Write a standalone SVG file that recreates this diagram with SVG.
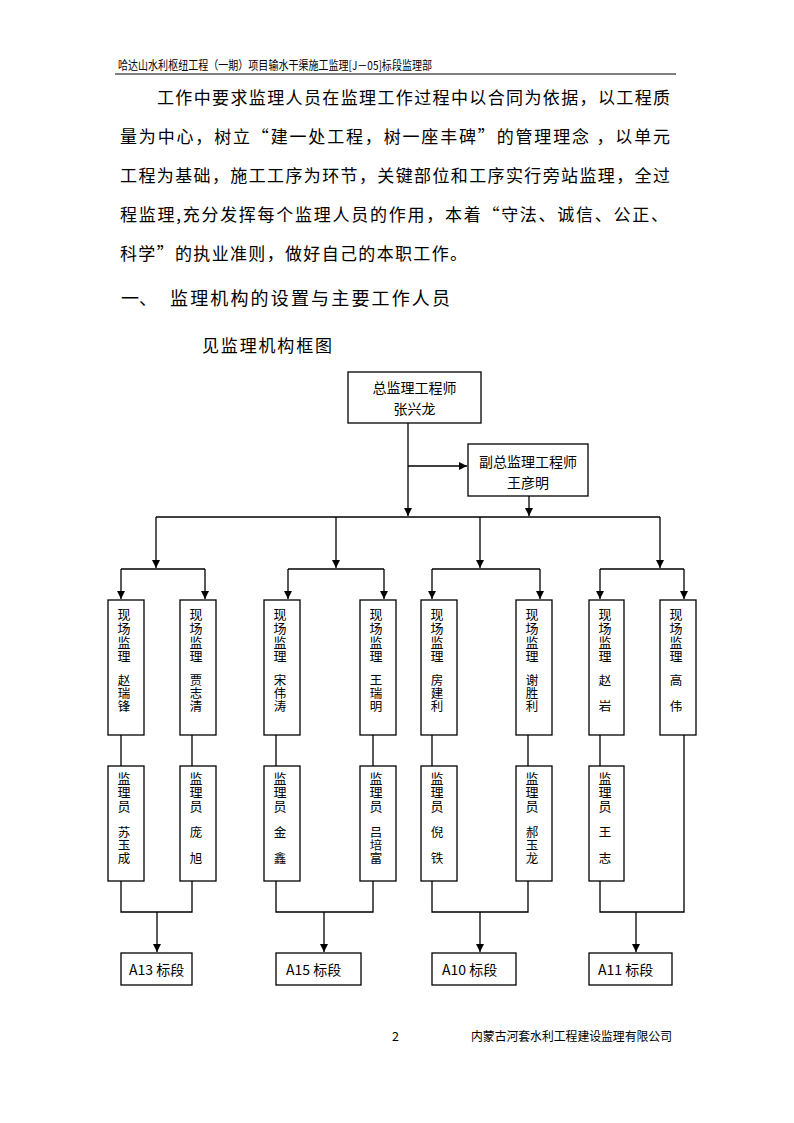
<svg xmlns="http://www.w3.org/2000/svg" width="794" height="1123" viewBox="0 0 794 1123">
<style>
text{font-family:"Noto Sans CJK SC","Liberation Sans",sans-serif;fill:#000}
.hd{font-size:12px}
.p{font-size:17px}
.h{font-size:18px}
.n{font-size:14px}
.c{text-anchor:middle}
.vt{font-size:13px;writing-mode:vertical-rl;text-orientation:upright;letter-spacing:1px}
.vn{font-size:12.5px;writing-mode:vertical-rl;text-orientation:upright;letter-spacing:0.3px}
.vn2{font-size:12.5px;writing-mode:vertical-rl;text-orientation:upright;letter-spacing:13px}
.box{fill:#fff;stroke:#000;stroke-width:1.3}
.ln{fill:none;stroke:#000;stroke-width:1.3}
.ft{font-size:12.5px}
</style>
<defs>
<marker id="ar" markerWidth="9" markerHeight="9" refX="8" refY="4" orient="auto" markerUnits="userSpaceOnUse">
<path d="M0,0 L8,4 L0,8 z" fill="#000"/>
</marker>
</defs>
<rect width="794" height="1123" fill="#fff"/>
<g id="header">
<text class="hd" x="118" y="70" textLength="314" lengthAdjust="spacingAndGlyphs">哈达山水利枢纽工程（一期）项目输水干渠施工监理[J－05]标段监理部</text>
<line x1="115" y1="74" x2="676" y2="74" stroke="#000" stroke-width="1"/>
</g>
<g id="body">
<text class="p" x="157" y="104" textLength="513" lengthAdjust="spacing">工作中要求监理人员在监理工作过程中以合同为依据，以工程质</text>
<text class="p" x="120" y="143" textLength="550" lengthAdjust="spacing">量为中心，树立“建一处工程，树一座丰碑”的管理理念 ，以单元</text>
<text class="p" x="120" y="182" textLength="550" lengthAdjust="spacing">工程为基础，施工工序为环节，关键部位和工序实行旁站监理，全过</text>
<text class="p" x="120" y="221" textLength="548" lengthAdjust="spacing">程监理,充分发挥每个监理人员的作用，本着“守法、诚信、公正、</text>
<text class="p" x="120" y="260" textLength="347" lengthAdjust="spacing">科学”的执业准则，做好自己的本职工作。</text>
<text class="h" x="121" y="305">一、</text>
<text class="h" x="170" y="305" textLength="280" lengthAdjust="spacing">监理机构的设置与主要工作人员</text>
<text class="p" x="202" y="352" textLength="130" lengthAdjust="spacing">见监理机构框图</text>
</g>
<g id="connectors">
<path class="ln" d="M408,423 V516" marker-end="url(#ar)"/>
<path class="ln" d="M408,466 H467" marker-end="url(#ar)"/>
<path class="ln" d="M529,496 V516" marker-end="url(#ar)"/>
<path class="ln" d="M156,517 H660"/>
<path class="ln" d="M156,517 V568" marker-end="url(#ar)"/>
<path class="ln" d="M336,517 V568" marker-end="url(#ar)"/>
<path class="ln" d="M480,517 V568" marker-end="url(#ar)"/>
<path class="ln" d="M660,517 V568" marker-end="url(#ar)"/>
<path class="ln" d="M121,569 H205 M288,569 H384 M432,569 H540 M600,569 H684"/>
<path class="ln" d="M121,569 V599" marker-end="url(#ar)"/>
<path class="ln" d="M205,569 V599" marker-end="url(#ar)"/>
<path class="ln" d="M288,569 V599" marker-end="url(#ar)"/>
<path class="ln" d="M384,569 V599" marker-end="url(#ar)"/>
<path class="ln" d="M432,569 V599" marker-end="url(#ar)"/>
<path class="ln" d="M540,569 V599" marker-end="url(#ar)"/>
<path class="ln" d="M600,569 V599" marker-end="url(#ar)"/>
<path class="ln" d="M684,569 V599" marker-end="url(#ar)"/>
<path class="ln" d="M121,735 V766 M192,735 V766 M276,735 V766 M373,735 V766 M432,735 V766 M528,735 V766 M600,735 V766"/>
<path class="ln" d="M121,881 V912 H192 V881 M276,881 V912 H373 V881 M432,881 V912 H528 V881 M600,881 V912 H684 V735"/>
<path class="ln" d="M157,912 V952" marker-end="url(#ar)"/>
<path class="ln" d="M324,912 V952" marker-end="url(#ar)"/>
<path class="ln" d="M480,912 V952" marker-end="url(#ar)"/>
<path class="ln" d="M636,912 V952" marker-end="url(#ar)"/>
</g>
<g id="chief">
<rect class="box" x="348" y="372" width="133" height="51"/>
<text class="n c" x="414.5" y="393">总监理工程师</text>
<text class="n c" x="414.5" y="414">张兴龙</text>
</g>
<g id="deputy">
<rect class="box" x="468" y="444" width="120" height="52"/>
<text class="n c" x="528" y="467">副总监理工程师</text>
<text class="n c" x="528" y="488">王彦明</text>
</g>
<g id="s1">
<rect class="box" x="108" y="600" width="36" height="135"/>
<text class="vt" x="124" y="608">现场监理</text>
<text class="vn" x="124" y="674">赵瑞锋</text>
</g>
<g id="s2">
<rect class="box" x="180" y="600" width="36" height="135"/>
<text class="vt" x="196" y="608">现场监理</text>
<text class="vn" x="196" y="674">贾志清</text>
</g>
<g id="s3">
<rect class="box" x="264" y="600" width="36" height="135"/>
<text class="vt" x="280" y="608">现场监理</text>
<text class="vn" x="280" y="674">宋伟涛</text>
</g>
<g id="s4">
<rect class="box" x="360" y="600" width="36" height="135"/>
<text class="vt" x="376" y="608">现场监理</text>
<text class="vn" x="376" y="674">王瑞明</text>
</g>
<g id="s5">
<rect class="box" x="421" y="600" width="36" height="135"/>
<text class="vt" x="437" y="608">现场监理</text>
<text class="vn" x="437" y="674">房建利</text>
</g>
<g id="s6">
<rect class="box" x="516" y="600" width="36" height="135"/>
<text class="vt" x="532" y="608">现场监理</text>
<text class="vn" x="532" y="674">谢胜利</text>
</g>
<g id="s7">
<rect class="box" x="589" y="600" width="35" height="135"/>
<text class="vt" x="605" y="608">现场监理</text>
<text class="vn2" x="605" y="674">赵岩</text>
</g>
<g id="s8">
<rect class="box" x="660" y="600" width="36" height="135"/>
<text class="vt" x="676" y="608">现场监理</text>
<text class="vn2" x="676" y="674">高伟</text>
</g>
<g id="m1">
<rect class="box" x="108" y="766" width="36" height="115"/>
<text class="vt" x="124" y="772">监理员</text>
<text class="vn" x="124" y="826">苏玉成</text>
</g>
<g id="m2">
<rect class="box" x="180" y="766" width="36" height="115"/>
<text class="vt" x="196" y="772">监理员</text>
<text class="vn2" x="196" y="826">庞旭</text>
</g>
<g id="m3">
<rect class="box" x="264" y="766" width="36" height="115"/>
<text class="vt" x="280" y="772">监理员</text>
<text class="vn2" x="280" y="826">金鑫</text>
</g>
<g id="m4">
<rect class="box" x="360" y="766" width="36" height="115"/>
<text class="vt" x="376" y="772">监理员</text>
<text class="vn" x="376" y="826">吕培富</text>
</g>
<g id="m5">
<rect class="box" x="421" y="766" width="36" height="115"/>
<text class="vt" x="437" y="772">监理员</text>
<text class="vn2" x="437" y="826">倪铁</text>
</g>
<g id="m6">
<rect class="box" x="516" y="766" width="36" height="115"/>
<text class="vt" x="532" y="772">监理员</text>
<text class="vn" x="532" y="826">郝玉龙</text>
</g>
<g id="m7">
<rect class="box" x="589" y="766" width="35" height="115"/>
<text class="vt" x="605" y="772">监理员</text>
<text class="vn2" x="605" y="826">王志</text>
</g>
<g id="a13">
<rect class="box" x="121" y="953" width="71" height="32"/>
<text class="n" x="129" y="975">A13 标段</text>
</g>
<g id="a15">
<rect class="box" x="276" y="953" width="85" height="32"/>
<text class="n" x="286" y="975">A15 标段</text>
</g>
<g id="a10">
<rect class="box" x="432" y="953" width="84" height="32"/>
<text class="n" x="442" y="975">A10 标段</text>
</g>
<g id="a11">
<rect class="box" x="589" y="953" width="83" height="32"/>
<text class="n" x="598" y="975">A11 标段</text>
</g>
<g id="footer">
<text class="ft" x="392" y="1041">2</text>
<text class="ft" x="471" y="1041" textLength="201" lengthAdjust="spacingAndGlyphs">内蒙古河套水利工程建设监理有限公司</text>
</g>
</svg>
